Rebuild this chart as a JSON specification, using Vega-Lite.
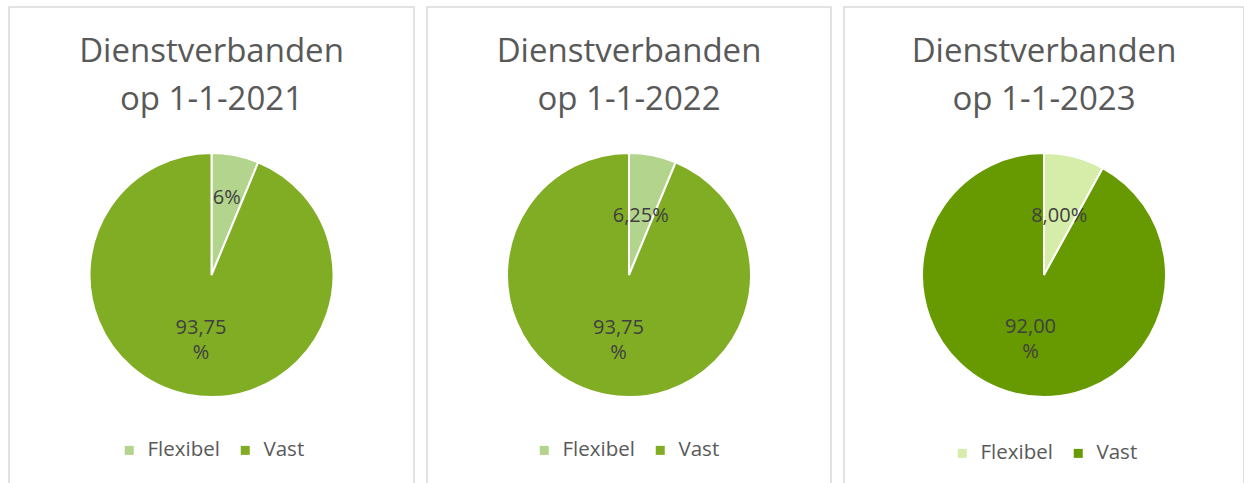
{
  "$schema": "https://vega.github.io/schema/vega-lite/v6.json",
  "padding": {"left": 8, "top": 6, "right": 0, "bottom": 0},
  "background": "white",
  "spacing": 11,
  "data": {"values": [
    {"year": "2021", "cat": "Flexibel", "value": 6.25, "label": "6%"},
    {"year": "2021", "cat": "Vast", "value": 93.75, "label": "93,75\n%"},
    {"year": "2022", "cat": "Flexibel", "value": 6.25, "label": "6,25%"},
    {"year": "2022", "cat": "Vast", "value": 93.75, "label": "93,75\n%"},
    {"year": "2023", "cat": "Flexibel", "value": 8.0, "label": "8,00%"},
    {"year": "2023", "cat": "Vast", "value": 92.0, "label": "92,00\n%"}
  ]},
  "config": {
    "font": "Open Sans",
    "view": {"stroke": "#d9d9d9", "strokeWidth": 1.5},
    "title": {"fontSize": 33, "fontWeight": "normal", "color": "#595959", "lineHeight": 48, "anchor": "middle", "frame": "group", "baseline": "top", "offset": -110},
    "legend": {"orient": "none", "direction": "horizontal", "symbolType": "square", "symbolSize": 81, "symbolStrokeWidth": 0, "labelFontSize": 20.5, "labelColor": "#595959", "labelFont": "Open Sans", "columnPadding": 15, "labelOffset": 8}
  },
  "hconcat": [
    {
      "width": 405, "height": 536,
      "view": {"stroke": "#d9d9d9", "strokeWidth": 1.5},
      "title": {"text": ["Dienstverbanden", "op 1-1-2021"]},
      "transform": [{"filter": "datum.year == '2021'"}],
      "encoding": {
        "theta": {"field": "value", "type": "quantitative", "stack": true},
        "color": {"field": "cat", "type": "nominal", "scale": {"domain": ["Flexibel", "Vast"], "range": ["#b3d48c", "#80ad24"]}, "legend": {"title": null, "legendX": 110, "legendY": 433}}
      },
      "layer": [
        {"mark": {"type": "arc", "outerRadius": 122, "stroke": "white", "strokeWidth": 2}},
        {"mark": {"type": "text", "radius": {"expr": "datum.cat == 'Flexibel' ? 78 : 54"}, "fontSize": 20, "lineBreak": "\n", "lineHeight": 25, "align": "center", "baseline": "middle"},
         "encoding": {"text": {"field": "label"}, "color": {"value": "#404040"}}}
      ]
    },
    {
      "width": 404, "height": 536,
      "view": {"stroke": "#d9d9d9", "strokeWidth": 1.5},
      "title": {"text": ["Dienstverbanden", "op 1-1-2022"]},
      "transform": [{"filter": "datum.year == '2022'"}],
      "encoding": {
        "theta": {"field": "value", "type": "quantitative", "stack": true},
        "color": {"field": "cat", "type": "nominal", "scale": {"domain": ["Flexibel", "Vast"], "range": ["#b3d48c", "#80ad24"]}, "legend": {"title": null, "legendX": 107, "legendY": 433}}
      },
      "layer": [
        {"mark": {"type": "arc", "outerRadius": 122, "stroke": "white", "strokeWidth": 2}},
        {"mark": {"type": "text", "radius": {"expr": "datum.cat == 'Flexibel' ? 60 : 54"}, "fontSize": 20, "lineBreak": "\n", "lineHeight": 25, "align": "center", "baseline": "middle"},
         "encoding": {"text": {"field": "label"}, "color": {"value": "#404040"}}}
      ]
    },
    {
      "width": 400, "height": 536,
      "view": {"stroke": "#d9d9d9", "strokeWidth": 1.5},
      "title": {"text": ["Dienstverbanden", "op 1-1-2023"]},
      "transform": [{"filter": "datum.year == '2023'"}],
      "encoding": {
        "theta": {"field": "value", "type": "quantitative", "stack": true},
        "color": {"field": "cat", "type": "nominal", "scale": {"domain": ["Flexibel", "Vast"], "range": ["#d6edaa", "#669a00"]}, "legend": {"title": null, "legendX": 108, "legendY": 436}}
      },
      "layer": [
        {"mark": {"type": "arc", "outerRadius": 122, "stroke": "white", "strokeWidth": 2}},
        {"mark": {"type": "text", "radius": {"expr": "datum.cat == 'Flexibel' ? 61 : 54"}, "fontSize": 20, "lineBreak": "\n", "lineHeight": 25, "align": "center", "baseline": "middle"},
         "encoding": {"text": {"field": "label"}, "color": {"value": "#404040"}}}
      ]
    }
  ],
  "resolve": {"scale": {"color": "independent", "theta": "independent"}, "legend": {"color": "independent"}}
}
